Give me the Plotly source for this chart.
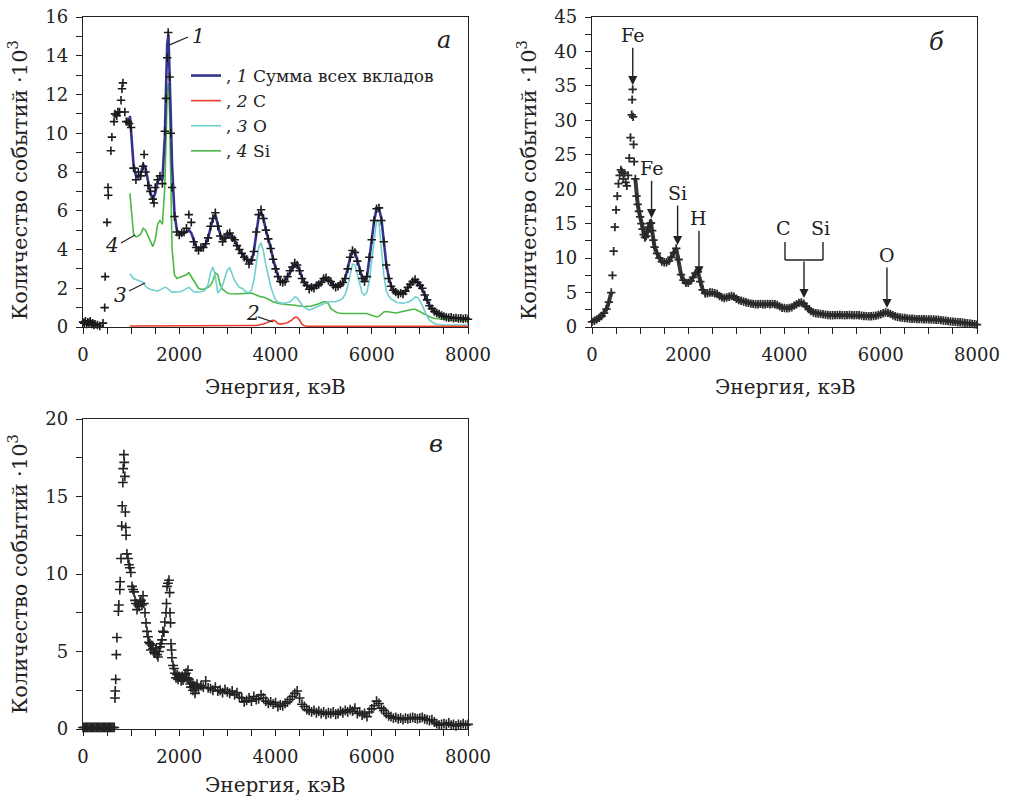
import plotly.graph_objects as go

# ================= Panel а : data points and fit components =================
ea_points = [0, 25, 50, 75, 100, 125, 150, 175, 200, 225,
             250, 300, 350, 415, 450, 460, 500, 520, 525, 580,
             600, 645, 665, 700, 725, 760, 790, 810, 830, 870,
             900, 935, 960,
             1000, 1050, 1100, 1150, 1200, 1250, 1270, 1300, 1350, 1400,
             1450, 1475, 1500, 1550, 1600, 1650, 1700, 1725, 1750, 1770,
             1800, 1825, 1850] + list(range(1900, 8001, 50))
va_points = [0.25, 0.2, 0.3, 0.15, 0.25, 0.2, 0.3, 0.15, 0.2, 0.1,
             0.15, 0.1, 0.05, 0.2, 1.0, 2.6, 5.4, 7.2, 6.8, 9.1,
             9.8, 10.6, 11.0, 10.9, 11.1, 11.1, 11.7, 12.3, 12.6, 11.1,
             10.6, 10.6, 10.5,
             10.3, 8.2, 7.6, 8.0, 7.8, 8.3, 8.9, 8.0, 7.3, 7.0,
             6.6, 6.4, 7.2, 7.6, 7.8, 7.4, 10.1, 11.8, 13.9, 15.2,
             12.9, 10.0, 7.2,
             5.7, 4.9,
             4.75, 4.85, 4.9, 5.1, 5.8, 5.4, 4.4, 4.1, 3.95, 4.1,
             4.1, 4.3, 4.6, 5.2, 5.6, 5.9, 5.2, 4.7, 4.4, 4.6,
             4.8, 4.85, 4.6, 4.5, 4.2, 4.0, 3.8, 3.6, 3.5, 3.25,
             3.45, 3.9, 4.9, 5.8, 6.05, 5.6, 5.0, 4.55, 4.05, 3.5,
             3.0, 2.6, 2.35, 2.3, 2.35, 2.6, 2.9, 3.1, 3.3, 3.2,
             2.9, 2.5, 2.3, 2.15, 1.95, 2.05, 2.0, 2.15, 2.2, 2.3,
             2.5, 2.55, 2.4, 2.35, 2.15, 2.05, 2.1, 2.2, 2.3, 2.5,
             3.0, 3.6, 3.95, 3.85, 3.4, 2.9, 2.5, 2.35, 2.6, 3.6,
             4.5, 5.5, 6.1, 6.15, 5.5, 4.4, 3.2, 2.5, 2.1, 1.9,
             1.8, 1.7, 1.75, 1.7, 1.85, 2.05, 2.2, 2.35, 2.45, 2.3,
             2.15, 2.0, 1.65, 1.4, 1.1, 0.95, 0.8, 0.72, 0.68, 0.6,
             0.55, 0.5, 0.48, 0.5, 0.45, 0.47, 0.44, 0.45, 0.42, 0.45,
             0.4]

e_fit = [975, 1050, 1100, 1150, 1200, 1250, 1300, 1350, 1400, 1450,
         1500, 1550, 1600, 1650, 1700, 1725, 1750, 1775, 1800, 1825,
         1850] + list(range(1900, 8001, 50))

sum_fit = [10.9, 8.4, 7.8, 7.7, 7.9, 8.4, 8.2, 7.5, 6.9, 6.6,
           6.9, 7.5, 7.7, 7.6, 9.8, 12.3, 14.6, 15.1, 13.4, 10.8,
           8.4,
           5.9, 5.0,
           4.85, 4.8, 4.85, 4.9, 5.0, 4.85, 4.5, 4.15, 4.0, 4.05,
           4.15, 4.3, 4.6, 5.1, 5.6, 5.8, 5.3, 4.8, 4.5, 4.5,
           4.7, 4.8, 4.7, 4.45, 4.2, 3.95, 3.8, 3.65, 3.5, 3.35,
           3.4, 3.9, 4.8, 5.7, 5.95, 5.6, 5.0, 4.55, 4.1, 3.5,
           3.0, 2.65, 2.4, 2.3, 2.4, 2.6, 2.85, 3.05, 3.2, 3.2,
           2.95, 2.55, 2.3, 2.15, 2.05, 2.0, 2.05, 2.1, 2.2, 2.35,
           2.45, 2.5, 2.45, 2.3, 2.2, 2.1, 2.1, 2.15, 2.3, 2.55,
           3.0, 3.55, 3.9, 3.85, 3.45, 2.95, 2.55, 2.4, 2.6, 3.5,
           4.5, 5.5, 6.1, 6.1, 5.6, 4.5, 3.3, 2.6, 2.15, 1.95,
           1.8, 1.72, 1.7, 1.75, 1.85, 2.0, 2.15, 2.35, 2.4, 2.35,
           2.2, 1.95, 1.7, 1.4, 1.1, 0.92, 0.82, 0.74, 0.66, 0.6,
           0.55, 0.52, 0.5, 0.48, 0.47, 0.46, 0.45, 0.45, 0.44, 0.44,
           0.43]

c_fit = [0.05, 0.05, 0.05, 0.05, 0.05, 0.05, 0.05, 0.05, 0.05, 0.05,
         0.05, 0.05, 0.05, 0.05, 0.05, 0.05, 0.05, 0.05, 0.05, 0.05,
         0.05,
         0.05, 0.05,
         0.05, 0.05, 0.05, 0.05, 0.05, 0.05, 0.05, 0.05, 0.05, 0.05,
         0.05, 0.05, 0.05, 0.05, 0.05, 0.05, 0.05, 0.05, 0.05, 0.05,
         0.05, 0.05, 0.05, 0.05, 0.05, 0.05, 0.05, 0.05, 0.06, 0.06,
         0.06, 0.07, 0.08, 0.1, 0.12, 0.15, 0.2, 0.26, 0.32, 0.35,
         0.3, 0.18, 0.15, 0.16, 0.19, 0.22, 0.28, 0.38, 0.5, 0.5,
         0.36, 0.15, 0.06, 0.03, 0.03, 0.03, 0.03, 0.03, 0.03, 0.03,
         0.03, 0.03, 0.03, 0.03, 0.03, 0.03, 0.03, 0.03, 0.03, 0.03,
         0.03, 0.03, 0.03, 0.03, 0.03, 0.03, 0.03, 0.03, 0.03, 0.03,
         0.03, 0.03, 0.03, 0.03, 0.03, 0.03, 0.03, 0.03, 0.03, 0.03,
         0.03, 0.03, 0.03, 0.03, 0.03, 0.03, 0.03, 0.03, 0.03, 0.03,
         0.03, 0.03, 0.03, 0.03, 0.03, 0.03, 0.03, 0.03, 0.03, 0.03,
         0.03, 0.03, 0.03, 0.03, 0.03, 0.03, 0.03, 0.03, 0.03, 0.03,
         0.03]

o_fit = [2.75, 2.5, 2.45, 2.4, 2.35, 2.3, 2.1, 2.0, 1.95, 1.9,
         1.88, 1.85, 1.9, 1.98, 2.05, 2.05, 2.0, 1.95, 1.9, 1.85,
         1.8,
         1.8, 1.8,
         1.82, 1.85, 1.9, 1.98, 2.05, 1.95, 1.82, 1.8, 1.8, 1.82,
         1.85, 1.95, 2.2, 2.8, 3.1, 2.6, 1.75, 1.9, 2.15, 2.6,
         2.95, 3.05, 2.7, 2.4, 2.2, 2.05, 2.0, 1.9, 1.8, 1.78,
         1.9, 2.4, 3.2, 4.1, 4.35, 3.9, 3.2, 2.6, 2.1, 1.7,
         1.4, 1.28, 1.23, 1.22, 1.23, 1.25, 1.3, 1.42, 1.55, 1.5,
         1.3, 1.15, 1.0, 0.92, 0.88, 0.92, 0.98, 1.05, 1.1, 1.15,
         1.2, 1.25, 1.3, 1.3, 1.3, 1.3, 1.35, 1.4, 1.5, 1.7,
         2.1, 2.7, 3.25, 3.2, 2.7, 2.1, 1.75, 1.65, 1.8, 2.4,
         3.5, 4.7, 5.5, 5.4, 4.2, 2.7, 1.9, 1.6, 1.45, 1.35,
         1.3, 1.25, 1.22, 1.23, 1.25, 1.28, 1.33, 1.42, 1.55, 1.52,
         1.35, 1.1, 0.8, 0.55, 0.35, 0.25, 0.18, 0.14, 0.12, 0.1,
         0.1, 0.1, 0.1, 0.1, 0.1, 0.1, 0.1, 0.1, 0.1, 0.1,
         0.1]

si_fit = [6.9, 4.8, 4.65, 4.7, 4.8, 5.1, 5.0, 4.7, 4.4, 4.15,
          4.5, 5.3, 5.5, 5.3, 7.2, 10.0, 12.0, 12.6, 11.0, 7.5,
          4.05,
          2.7, 2.5,
          2.55, 2.6, 2.65, 2.7, 2.8, 2.6, 2.35, 2.15, 2.0, 1.95,
          1.95, 2.0, 2.05, 2.15, 2.4, 2.8, 2.7, 2.2, 1.95, 1.85,
          1.75, 1.72, 1.7, 1.7, 1.7, 1.72, 1.72, 1.75, 1.75, 1.72,
          1.75, 1.7, 1.65, 1.6, 1.55, 1.55, 1.5, 1.45, 1.38, 1.3,
          1.25, 1.23, 1.2, 1.18, 1.15, 1.15, 1.15, 1.15, 1.12, 1.1,
          1.1, 1.08, 1.05, 1.05, 1.05, 1.08, 1.12, 1.15, 1.2, 1.25,
          1.3, 1.3, 1.2, 0.95, 0.85, 0.78, 0.72, 0.7, 0.7, 0.7,
          0.7, 0.72, 0.72, 0.72, 0.72, 0.7, 0.7, 0.72, 0.7, 0.65,
          0.6, 0.55, 0.52, 0.55, 0.65, 0.78, 0.8, 0.78, 0.75, 0.72,
          0.72, 0.75, 0.78, 0.82, 0.85, 0.88, 0.9, 0.92, 0.92, 0.88,
          0.8, 0.72, 0.65, 0.58, 0.52, 0.48, 0.45, 0.42, 0.4, 0.4,
          0.4, 0.38, 0.37, 0.36, 0.35, 0.35, 0.34, 0.34, 0.33, 0.33,
          0.33]

# ================= Panel б =================
eb_points = list(range(0, 351, 50)) + [
    400, 425, 450, 475, 500, 525, 550, 575, 600, 625, 650, 675, 700, 725, 750, 775, 800, 825,
    835, 845, 855, 865,
    875, 900, 925, 950, 975, 1000, 1025, 1050, 1075, 1100, 1125, 1150, 1175, 1200, 1225, 1250, 1275,
] + list(range(1300, 8001, 50))
vb_points = [0.75, 0.9, 1.1, 1.35, 1.6, 2.0, 2.6, 3.6,
             5.0, 7.5, 11.0, 14.5, 17.0, 19.0, 20.8, 22.0, 22.8, 22.5, 21.5, 22.3, 21.0, 20.5, 22.0, 24.5, 27.5, 30.8,
             33.0, 34.5, 30.5, 26.5,
             24.0, 21.5, 19.0, 17.8, 16.8, 16.0, 15.0, 14.2, 13.4, 13.0, 13.2, 13.8, 14.5, 15.0, 15.1, 14.0, 12.6,
             11.6, 10.7, 10.0, 9.5,
             9.4, 9.4, 9.6, 10.1, 10.8, 11.4, 9.8, 7.6, 6.8, 6.4,
             6.4, 6.7, 7.2, 7.8, 8.0, 6.6, 5.4, 4.9, 4.9, 5.0,
             5.0, 4.9, 4.8, 4.5, 4.3, 4.2, 4.3, 4.4, 4.5, 4.4,
             4.1, 3.9, 3.8, 3.7, 3.6, 3.5, 3.4, 3.35, 3.3, 3.3,
             3.35, 3.3, 3.3, 3.35, 3.3, 3.35, 3.3, 3.2, 3.0, 2.8,
             2.75, 2.7, 2.75, 2.85, 3.1, 3.3, 3.5, 3.55, 3.4, 3.0,
             2.6, 2.3, 2.1, 2.0, 1.95, 1.9, 1.85, 1.8, 1.75, 1.7,
             1.7, 1.72, 1.75, 1.75, 1.72, 1.7, 1.72, 1.75, 1.72, 1.7,
             1.72, 1.7, 1.65, 1.6, 1.58, 1.55, 1.55, 1.6, 1.65, 1.75,
             1.85, 2.0, 2.1, 2.05, 1.9, 1.7, 1.55, 1.45, 1.4, 1.35,
             1.3, 1.25, 1.22, 1.2, 1.18, 1.15, 1.15, 1.15, 1.12, 1.1,
             1.1, 1.08, 1.08, 1.05, 1.05, 1.0, 0.95, 0.9, 0.85, 0.8,
             0.78, 0.75, 0.7, 0.68, 0.65, 0.6, 0.55, 0.5, 0.45, 0.4,
             0.35]

# peak markers of panel б: (label, energy keV, arrow tip value, label offset px)
peak_labels = ["Fe", "Fe", "Si", "H", "O"]
peak_energy = [847, 1238, 1779, 2223, 6129]
peak_tip = [35.1, 15.8, 11.9, 7.5, 2.75]
peak_offset = [-50, -50, -52, -57, -53]

# ================= Panel в =================
ec_points = list(range(0, 651, 25)) + [
    665, 670, 680, 693, 705, 735, 745, 765, 772, 790,
    805, 815, 828, 835, 850, 858, 870, 880, 888, 895,
    912, 935, 955, 975, 995, 1018, 1040, 1060, 1080, 1100,
    1122, 1145, 1165, 1185, 1205, 1225, 1247, 1265, 1288, 1309,
    1330, 1350, 1370, 1392, 1410, 1430, 1455, 1475, 1496, 1520,
    1540, 1558, 1580, 1600, 1620, 1642, 1660, 1683, 1700, 1725,
    1735, 1745, 1765, 1787, 1800, 1808, 1820, 1829, 1840, 1849,
    1870, 1891, 1912, 1932, 1955, 1975, 1995, 2016, 2040, 2060,
    2078, 2100, 2120, 2140, 2160, 2182, 2200, 2225, 2244, 2265,
    2285, 2305, 2327, 2350, 2370,
] + list(range(2400, 8001, 50))
vc_points = [0.1, 0.1, 0.1, 0.1, 0.1, 0.1, 0.1, 0.1, 0.1, 0.1,
             0.1, 0.1, 0.1, 0.1, 0.1, 0.1, 0.1, 0.1, 0.1, 0.1,
             0.1, 0.1, 0.1, 0.1, 0.1, 0.1, 0.1,
             2.0, 2.45, 3.2, 4.8, 5.9, 7.6, 8.0, 9.0, 9.5, 11.0,
             13.1, 14.4, 15.9, 16.8, 17.7, 17.2, 16.3, 14.0, 13.0, 12.5,
             11.3, 11.0, 10.6, 10.4, 10.1, 9.2, 9.0, 8.85, 8.3, 8.1,
             7.7, 8.0, 7.9, 8.2, 8.3, 8.0, 8.6, 8.1, 7.5, 6.85,
             6.3, 5.95, 5.6, 5.5, 5.1, 5.4, 5.2, 4.95, 4.9, 5.2,
             4.8, 4.65, 5.0, 5.3, 5.5, 5.75, 6.3, 6.25, 6.9, 7.5,
             8.1, 9.2, 9.4, 9.6, 8.8, 7.5, 6.85, 5.5, 5.1, 4.6,
             4.1, 3.9, 3.6, 3.3, 3.5, 3.2, 3.4, 3.35, 3.1, 3.4,
             3.15, 3.3, 3.5, 3.6, 3.3, 3.8, 3.2, 2.9, 2.7, 3.0,
             2.5, 2.8, 2.3, 2.65, 2.9,
             2.6, 2.8,
             2.7, 3.1, 2.65, 2.6, 2.5, 2.7, 2.45, 2.5, 2.35, 2.55,
             2.4, 2.3, 2.45, 2.2, 2.35, 2.05, 2.0, 1.75, 1.85, 2.0,
             1.8, 2.1, 1.9, 1.95, 2.2, 2.0, 1.8, 1.65, 1.75, 1.6,
             1.7, 1.45, 1.55, 1.5, 1.65, 1.75, 1.9, 2.1, 2.3, 2.45,
             2.0, 1.6, 1.45, 1.25, 1.2, 1.1, 1.2, 1.05, 1.15, 1.0,
             1.1, 0.95, 1.05, 1.0, 1.1, 0.95, 1.0, 1.15, 1.05, 1.2,
             1.1, 1.25, 1.15, 1.35, 1.0, 1.1, 0.9, 1.0, 0.8, 1.1,
             1.3, 1.5, 1.8, 1.65, 1.35, 1.2, 1.0, 0.85, 0.8, 0.7,
             0.75, 0.65, 0.7, 0.6, 0.7, 0.65, 0.7, 0.75, 0.7, 0.65,
             0.7, 0.75, 0.65, 0.6, 0.55, 0.6, 0.45, 0.35, 0.25, 0.3,
             0.35, 0.3, 0.4, 0.25, 0.3, 0.2, 0.3, 0.25, 0.35, 0.25,
             0.3]

x_ticks = [0, 2000, 4000, 6000, 8000]

assert len(ea_points) == len(va_points), (len(ea_points), len(va_points))
for arr in (sum_fit, c_fit, o_fit, si_fit):
    assert len(arr) == len(e_fit), (len(arr), len(e_fit))
assert len(eb_points) == len(vb_points), (len(eb_points), len(vb_points))
assert len(ec_points) == len(vc_points), (len(ec_points), len(vc_points))

# ================= figure =================
W, H = 1010, 804
FONT = "DejaVu Serif"
INK = "#222222"


def px_x(p):
    return p / W


def px_y(p):
    return 1 - p / H


fig = go.Figure()

cross = dict(symbol="cross-thin", size=6, line=dict(width=1.6, color="#1a1a1a"), color="#1a1a1a")

# panel а lines
fig.add_trace(go.Scatter(x=e_fit, y=si_fit, mode="lines", line=dict(color="#4cb847", width=1.6),
                         name=", <i>4</i> Si", legendrank=4, xaxis="x", yaxis="y"))
fig.add_trace(go.Scatter(x=e_fit, y=o_fit, mode="lines", line=dict(color="#72cfd0", width=1.6),
                         name=", <i>3</i> O", legendrank=3, xaxis="x", yaxis="y"))
fig.add_trace(go.Scatter(x=e_fit, y=c_fit, mode="lines", line=dict(color="#ee3b2c", width=1.6),
                         name=", <i>2</i> C", legendrank=2, xaxis="x", yaxis="y"))
fig.add_trace(go.Scatter(x=e_fit, y=sum_fit, mode="lines", line=dict(color="#34348f", width=2.6),
                         name=", <i>1</i> Сумма всех вкладов", legendrank=1, xaxis="x", yaxis="y"))
fig.add_trace(go.Scatter(x=ea_points, y=va_points, mode="markers", marker=cross, showlegend=False,
                         cliponaxis=False, xaxis="x", yaxis="y"))

# panel б : dense parts of the spectrum merge into a band, sparse part shows single crosses
i_lo = eb_points.index(400) + 1
i_hi = eb_points.index(900)
band = dict(color="#3a3a3a", width=4)
fig.add_trace(go.Scatter(x=eb_points[:i_lo], y=vb_points[:i_lo], mode="lines", line=band,
                         showlegend=False, cliponaxis=False, xaxis="x2", yaxis="y2"))
fig.add_trace(go.Scatter(x=eb_points[i_hi:], y=vb_points[i_hi:], mode="lines", line=band,
                         showlegend=False, cliponaxis=False, xaxis="x2", yaxis="y2"))
fig.add_trace(go.Scatter(x=eb_points, y=vb_points, mode="markers",
                         marker=dict(symbol="cross-thin", size=6, line=dict(width=1.8, color="#2a2a2a")),
                         showlegend=False, cliponaxis=False, xaxis="x2", yaxis="y2"))

# panel в
fig.add_trace(go.Scatter(x=ec_points, y=vc_points, mode="markers",
                         marker=dict(symbol="cross-thin", size=7, line=dict(width=1.6, color="#222")),
                         showlegend=False, cliponaxis=False, xaxis="x3", yaxis="y3"))

axis_common = dict(showline=True, mirror=True, linecolor=INK, linewidth=1.3, showgrid=False,
                   zeroline=False, ticks="outside", ticklen=6, tickwidth=1.2, tickcolor=INK,
                   automargin=False,
                   tickfont=dict(family=FONT, size=18, color=INK))

xa = dict(axis_common, range=[0, 8000], tickvals=x_ticks,
          minor=dict(dtick=500, ticks="outside", ticklen=6, tickwidth=1.2, tickcolor=INK),
          ticklabelstandoff=5)

dom_x_left = [px_x(83), px_x(468)]
dom_x_right = [px_x(592), px_x(977)]
dom_y_top = [px_y(327), px_y(17)]
dom_y_bot = [px_y(729), px_y(419)]

fig.update_layout(
    template="none",
    width=W, height=H, autosize=False,
    margin=dict(l=0, r=0, t=0, b=0, pad=0, autoexpand=False),
    paper_bgcolor="white", plot_bgcolor="white",
    font=dict(family=FONT, color=INK),
    xaxis=dict(xa, domain=dom_x_left, anchor="y"),
    yaxis=dict(axis_common, domain=dom_y_top, anchor="x", range=[0, 16], dtick=2,
               minor=dict(dtick=1, ticks="outside", ticklen=6, tickwidth=1.2, tickcolor=INK),
               ticklabelstandoff=4),
    xaxis2=dict(xa, domain=dom_x_right, anchor="y2"),
    yaxis2=dict(axis_common, domain=dom_y_top, anchor="x2", range=[0, 45], dtick=5,
                minor=dict(dtick=2.5, ticks="outside", ticklen=6, tickwidth=1.2, tickcolor=INK),
                ticklabelstandoff=4),
    xaxis3=dict(xa, domain=dom_x_left, anchor="y3"),
    yaxis3=dict(axis_common, domain=dom_y_bot, anchor="x3", range=[0, 20], dtick=5,
                minor=dict(dtick=2.5, ticks="outside", ticklen=6, tickwidth=1.2, tickcolor=INK),
                ticklabelstandoff=4),
    legend=dict(x=px_x(186), y=px_y(58), xanchor="left", yanchor="top",
                bgcolor="rgba(0,0,0,0)", font=dict(family=FONT, size=17, color=INK),
                itemwidth=30, tracegroupgap=0, traceorder="normal"),
    showlegend=True,
)

ann = []
ytitle = "Количество событий ·10<sup>3</sup>"
xtitle = "Энергия, кэВ"
# axis titles
for cx, cy in [(275, 387), (785, 387), (275, 785)]:
    ann.append(dict(text=xtitle, x=px_x(cx), y=px_y(cy), xref="paper", yref="paper",
                    showarrow=False, font=dict(family=FONT, size=20, color=INK),
                    xanchor="center", yanchor="middle"))
for cx, cy in [(18, 180), (527, 180), (18, 574)]:
    ann.append(dict(text=ytitle, x=px_x(cx), y=px_y(cy), xref="paper", yref="paper",
                    showarrow=False, textangle=-90, font=dict(family=FONT, size=21, color=INK),
                    xanchor="center", yanchor="middle"))
# panel letters
for txt, cx, cy in [("а", 444, 40), ("б", 936, 42), ("в", 436, 444)]:
    ann.append(dict(text="<i>" + txt + "</i>", x=px_x(cx), y=px_y(cy), xref="paper", yref="paper",
                    showarrow=False, font=dict(family=FONT, size=24, color=INK),
                    xanchor="center", yanchor="middle"))
# curve numbers in panel а
for txt, ex, vy in [("1", 2390, 15.0), ("2", 3533, 0.72), ("3", 769, 1.65), ("4", 603, 4.23)]:
    ann.append(dict(text="<i>" + txt + "</i>", x=ex, y=vy, xref="x", yref="y", showarrow=False,
                    font=dict(family=FONT, size=20, color=INK), xanchor="center", yanchor="middle"))
# peak labels with arrows in panel б
for lab, e, tip, off in zip(peak_labels, peak_energy, peak_tip, peak_offset):
    ann.append(dict(text=lab, x=e, y=tip, xref="x2", yref="y2", showarrow=True,
                    ax=0, ay=off, arrowhead=2, arrowsize=1.3, arrowwidth=1.4, arrowcolor=INK,
                    standoff=0, startstandoff=0,
                    font=dict(family=FONT, size=19, color=INK)))
# C / Si doublet
ann.append(dict(text="", x=4405, y=4.2, xref="x2", yref="y2", showarrow=True, ax=0, ay=-38,
                arrowhead=2, arrowsize=1.3, arrowwidth=1.4, arrowcolor=INK))
ann.append(dict(text="C", x=3969, y=14.4, xref="x2", yref="y2", showarrow=False,
                font=dict(family=FONT, size=19, color=INK)))
ann.append(dict(text="Si", x=4758, y=14.4, xref="x2", yref="y2", showarrow=False,
                font=dict(family=FONT, size=19, color=INK)))

shapes = []
line_style = dict(color=INK, width=1.2)
# leader lines panel а
for x0, y0, x1, y1 in [(1787, 14.55, 2182, 14.97), (3636, 0.52, 3948, 0.26),
                       (956, 1.86, 1288, 2.27), (790, 4.34, 1081, 4.75)]:
    shapes.append(dict(type="line", xref="x", yref="y", x0=x0, y0=y0, x1=x1, y1=y1, line=line_style))
# bracket panel б
for x0, y0, x1, y1 in [(4010, 12.34, 4010, 9.73), (4800, 12.34, 4800, 9.73), (4010, 9.73, 4800, 9.73)]:
    shapes.append(dict(type="line", xref="x2", yref="y2", x0=x0, y0=y0, x1=x1, y1=y1,
                       line=dict(color=INK, width=1.4)))

fig.update_layout(annotations=ann, shapes=shapes)

fig.write_html("out.html")
